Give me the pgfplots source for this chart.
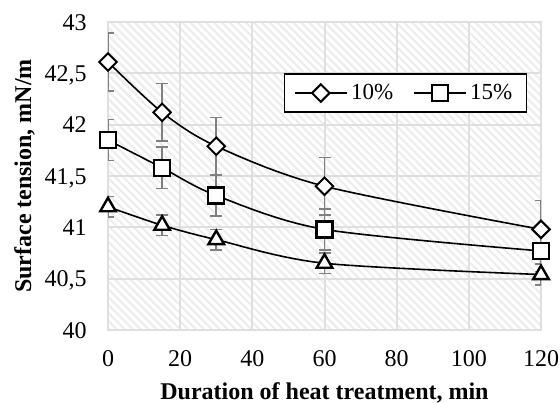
\documentclass[border=0pt]{standalone}
\usepackage{fontspec}
\setmainfont{Liberation Serif}
\usepackage{pgfplots}
\pgfplotsset{compat=1.18}
\usetikzlibrary{patterns.meta}
\begin{document}
\begin{tikzpicture}
\begin{axis}[
  width=216.5pt, height=154pt, scale only axis,
  xmin=0, xmax=120, ymin=40, ymax=43,
  xtick={0,20,...,120}, ytick={40,40.5,...,43},
  grid=major, major grid style={gray!25, line width=1pt},
  axis line style={gray!25, line width=1pt},
  tick style={draw=none},
  /pgf/number format/use comma,
  /pgf/number format/assume math mode=true,
  ticklabel style={font=\fontsize{12}{14}\selectfont, inner sep=0pt},
  xticklabel style={anchor=base, yshift=-18.25pt},
  yticklabel style={anchor=base east, xshift=-10.5pt, yshift=-4.1pt},
  label style={font=\fontsize{12}{14}\selectfont\bfseries, inner sep=0pt},
  xlabel={Duration of heat treatment, min},
  ylabel={Surface tension, mN/m},
  xlabel style={at={(axis description cs:0.5,-0.2273)}, anchor=base},
  ylabel style={at={(axis description cs:-0.1778,0.5)}, anchor=base},
  axis background/.style={pattern={Lines[angle=-45,distance=2.8pt,line width=1pt]}, pattern color=gray!15},
  legend columns=2,
  legend style={at={(rel axis cs:0.968,0.834)}, anchor=north east, draw=black, line width=0.8pt,
    font=\fontsize{11.5}{14}\selectfont, inner ysep=3pt, inner xsep=5pt,
    /tikz/every even column/.append style={column sep=8pt}},
  legend image code/.code={\draw[mark repeat=2,mark phase=2] plot coordinates {(0cm,0cm)(0.45cm,0cm)(0.9cm,0cm)};},
  every axis plot/.append style={line width=0.8pt, smooth, tension=0.5},
]
\addplot[black, mark=square*, mark size=3.1pt, mark options={rotate=45, fill=white, line width=1pt},
  error bars/.cd, y dir=both, y explicit,
  error bar style={gray, line width=0.8pt}, error mark options={gray, line width=0.8pt, mark size=3pt, rotate=90}]
  table[x=x, y=y, y error=e] {
x y e
0 42.61 0.28
15 42.12 0.28
30 41.79 0.28
60 41.40 0.28
120 40.98 0.28
};
\addplot[black, mark=square*, mark size=4pt, mark options={fill=white, line width=1.2pt},
  error bars/.cd, y dir=both, y explicit,
  error bar style={gray, line width=0.8pt}, error mark options={gray, line width=0.8pt, mark size=3pt, rotate=90}]
  table[x=x, y=y, y error=e] {
x y e
0 41.85 0.2
15 41.58 0.2
30 41.31 0.2
60 40.98 0.2
120 40.77 0.2
};
\addplot[black, mark=triangle*, mark size=4.5pt, mark options={fill=white, line width=1.2pt},
  error bars/.cd, y dir=both, y explicit,
  error bar style={gray, line width=0.8pt}, error mark options={gray, line width=0.8pt, mark size=3pt, rotate=90}]
  table[x=x, y=y, y error=e] {
x y e
0 41.20 0.1
15 41.02 0.1
30 40.88 0.1
60 40.65 0.1
120 40.54 0.1
};
\legend{10\%, 15\%}
\end{axis}
\pgfresetboundingbox
\path ([xshift=-54pt,yshift=-36.25pt]current axis.south west) rectangle ([xshift=9.5pt,yshift=11pt]current axis.north east);
\end{tikzpicture}
\end{document}
